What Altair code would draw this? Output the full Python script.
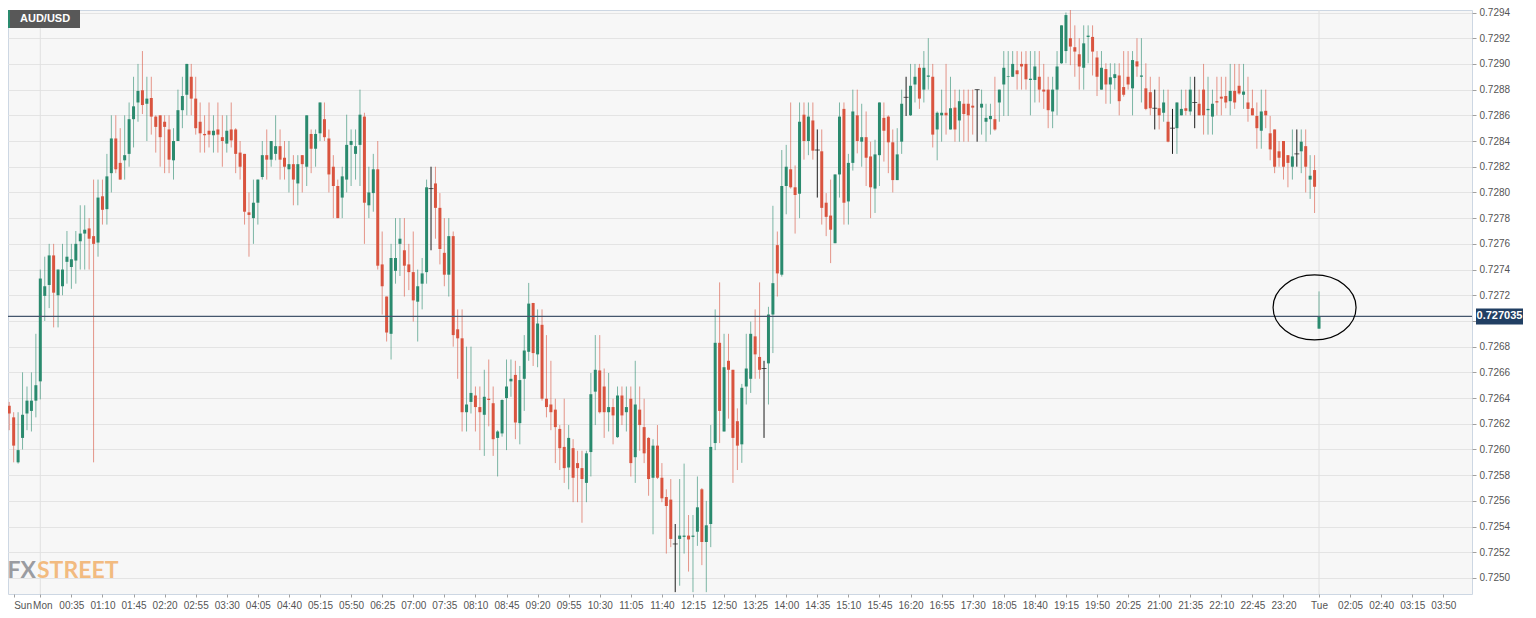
import json
import pandas as pd
import altair as alt

symbol = "AUD/USD"
current_price = 0.727035
first_index = -8  # Sun 23:20, 5-minute candles, index 0 = Mon 00:00

# price values in pips (price * 10000)
open_pips = [
    7263.8, 7263.4, 7262.5, 7259.0, 7260.9, 7262.8, 7263.0, 7263.8,
    7265.3, 7271.95, 7272.8, 7275.1, 7272.0, 7272.7, 7274.6, 7274.2, 7274.7, 7276.2,
    7276.8, 7277.2, 7276.6, 7276.1, 7279.7, 7278.7, 7281.5, 7284.2, 7282.3, 7282.5,
    7283.0, 7285.7, 7287.0, 7287.95, 7286.9, 7287.35, 7285.9, 7286.0, 7285.5, 7284.9,
    7282.5, 7284.0, 7286.4, 7287.6, 7289.0, 7287.3, 7285.5, 7284.55, 7284.8, 7284.45,
    7284.9, 7284.3, 7283.8, 7284.9, 7284.9, 7283.1, 7283.0, 7278.45, 7278.0, 7279.2,
    7281.2, 7282.9, 7282.55, 7283.0, 7283.6, 7282.7, 7281.8, 7282.2, 7280.7, 7282.9,
    7282.0, 7284.55, 7283.4, 7284.6, 7285.7, 7284.2, 7282.0, 7280.5, 7279.6, 7281.0,
    7283.7, 7283.0, 7283.7, 7285.9, 7279.0, 7279.95, 7281.8, 7274.4, 7271.9, 7269.0,
    7273.9, 7276.0, 7275.5, 7274.4, 7273.8, 7271.5, 7272.9, 7273.8, 7280.3, 7280.7,
    7278.8, 7275.3, 7273.6, 7276.6, 7269.35, 7268.65, 7262.9, 7263.7, 7264.2, 7263.3,
    7262.7, 7263.95, 7263.6, 7260.9, 7261.25, 7264.0, 7265.3, 7265.8, 7262.05, 7265.5,
    7267.6, 7271.4, 7267.4, 7269.7, 7263.95, 7263.5, 7263.1, 7261.6, 7260.2, 7258.6,
    7260.1, 7258.94, 7258.55, 7257.4, 7259.8, 7264.5, 7266.15, 7264.9, 7262.9, 7263.3,
    7260.96, 7264.2, 7262.9, 7263.95, 7259.4, 7263.1, 7261.74, 7260.9, 7257.8, 7260.3,
    7257.8, 7256.3, 7256.1, 7252.65, 7253.04, 7253.2, 7253.3, 7253.2, 7253.6, 7256.9,
    7252.8, 7254.2, 7260.5, 7268.3, 7261.4, 7266.9, 7266.2, 7262.2, 7260.4, 7264.9,
    7265.5, 7268.8, 7267.2, 7266.3, 7266.7, 7270.5, 7275.9, 7273.6, 7280.5, 7281.8,
    7280.4, 7279.9, 7286.05, 7284.0, 7285.6, 7283.3, 7283.2, 7279.2, 7278.2, 7276.05,
    7281.4, 7286.5, 7279.3, 7282.3, 7286.0, 7283.95, 7284.3, 7282.8, 7280.3, 7282.9,
    7285.8, 7285.9, 7283.9, 7280.96, 7283.95, 7287.4, 7286.0, 7288.4, 7289.7, 7288.0,
    7289.0, 7289.0, 7284.9, 7286.0, 7286.2, 7284.9, 7286.6, 7285.6, 7286.9, 7286.9,
    7286.75, 7288.0, 7286.6, 7285.5, 7285.7, 7285.7, 7287.0, 7288.4, 7289.0, 7289.0,
    7289.5, 7290.0, 7290.0, 7288.75, 7288.75, 7289.0, 7288.0, 7288.0, 7286.3, 7288.0,
    7290.05, 7291.0, 7292.0, 7291.3, 7290.75, 7289.7, 7292.1, 7292.1, 7290.5, 7288.0,
    7289.6, 7288.4, 7288.9, 7289.1, 7288.2, 7289.0, 7288.1, 7290.2, 7289.0, 7288.1,
    7287.8, 7286.55, 7286.55, 7286.2, 7285.5, 7285.0, 7285.0, 7286.0, 7286.55, 7286.3,
    7287.0, 7286.9, 7288.0, 7286.4, 7285.9, 7287.1, 7287.45, 7287.5, 7287.1, 7287.9,
    7288.3, 7287.6, 7287.0, 7286.55, 7285.95, 7284.8, 7286.35, 7284.6, 7284.9, 7283.2,
    7284.0, 7282.9, 7282.0, 7283.0, 7283.2, 7283.6, 7281.0, 7281.74, 7269.4,
]
high_pips = [
    7264.0, 7263.7, 7262.9, 7262.9, 7266.0, 7264.9, 7266.0, 7269.0,
    7274.0, 7275.0, 7276.0, 7276.0, 7274.0, 7276.0, 7277.0, 7276.0, 7277.0, 7279.0,
    7279.0, 7278.0, 7281.0, 7281.0, 7281.0, 7283.0, 7286.0, 7286.0, 7285.0, 7286.0,
    7287.0, 7289.0, 7290.0, 7291.0, 7289.0, 7289.0, 7286.0, 7286.0, 7286.0, 7286.0,
    7285.0, 7288.0, 7289.0, 7290.0, 7290.0, 7289.0, 7287.0, 7286.0, 7287.0, 7286.0,
    7287.0, 7286.0, 7286.0, 7287.0, 7285.0, 7284.0, 7283.0, 7280.0, 7281.0, 7281.0,
    7284.0, 7284.9, 7284.0, 7286.0, 7284.9, 7284.0, 7284.0, 7282.9, 7282.9, 7282.9,
    7286.0, 7284.9, 7284.9, 7287.0, 7287.0, 7284.9, 7282.9, 7281.0, 7282.0, 7286.05,
    7284.9, 7284.9, 7288.0, 7286.2, 7282.0, 7283.0, 7284.0, 7276.96, 7271.9, 7276.0,
    7278.0, 7278.0, 7278.0, 7276.0, 7276.96, 7274.0, 7274.9, 7281.0, 7282.0, 7282.0,
    7279.95, 7278.0, 7278.0, 7276.96, 7270.9, 7270.9, 7268.0, 7268.0, 7264.9, 7264.9,
    7266.2, 7267.0, 7264.9, 7261.5, 7263.9, 7267.0, 7267.0, 7266.9, 7266.5, 7268.9,
    7272.96, 7271.4, 7270.9, 7270.9, 7268.9, 7266.9, 7263.95, 7261.9, 7263.95, 7261.9,
    7260.8, 7259.9, 7259.9, 7259.9, 7265.95, 7268.9, 7268.9, 7266.3, 7265.95, 7263.95,
    7264.9, 7264.9, 7264.9, 7264.9, 7266.9, 7264.9, 7263.95, 7260.96, 7260.8, 7261.9,
    7258.94, 7256.9, 7257.7, 7254.2, 7257.7, 7258.9, 7254.9, 7254.9, 7257.9, 7257.0,
    7256.0, 7261.9, 7270.9, 7273.0, 7269.0, 7269.0, 7266.2, 7263.2, 7265.1, 7269.0,
    7269.95, 7270.9, 7273.0, 7266.9, 7271.1, 7278.96, 7276.96, 7283.3, 7283.7, 7287.0,
    7282.1, 7287.0, 7287.0, 7287.0, 7287.0, 7284.9, 7284.9, 7279.95, 7281.0, 7281.4,
    7287.0, 7287.0, 7283.0, 7288.0, 7288.0, 7286.9, 7286.3, 7283.95, 7284.1, 7287.0,
    7287.0, 7286.0, 7284.9, 7285.0, 7288.0, 7289.0, 7290.0, 7290.0, 7290.0, 7291.0,
    7292.0, 7290.0, 7286.3, 7288.0, 7290.0, 7289.0, 7288.0, 7288.0, 7288.0, 7288.0,
    7288.0, 7288.0, 7288.0, 7286.9, 7286.9, 7289.0, 7288.0, 7291.0, 7291.0, 7291.0,
    7291.0, 7290.96, 7291.0, 7291.0, 7291.0, 7291.0, 7290.0, 7289.0, 7289.0, 7291.0,
    7293.0, 7294.0, 7295.0, 7293.0, 7292.0, 7293.0, 7293.0, 7293.0, 7291.0, 7291.0,
    7290.05, 7290.05, 7290.05, 7290.05, 7291.0, 7291.0, 7291.0, 7292.0, 7292.0, 7290.05,
    7289.0, 7288.0, 7289.0, 7288.0, 7288.0, 7286.5, 7287.0, 7288.0, 7288.0, 7289.0,
    7289.0, 7288.0, 7290.0, 7289.0, 7288.0, 7289.0, 7289.0, 7289.0, 7290.0, 7290.0,
    7290.0, 7290.0, 7289.0, 7288.0, 7287.0, 7288.0, 7288.0, 7285.95, 7284.9, 7284.0,
    7284.0, 7282.9, 7284.9, 7284.9, 7284.9, 7284.9, 7282.9, 7282.9, 7272.3,
]
low_pips = [
    7262.2, 7261.5, 7259.0, 7258.9, 7260.0, 7261.5, 7261.4, 7262.5,
    7263.9, 7270.0, 7271.0, 7269.5, 7269.5, 7272.0, 7272.9, 7272.5, 7272.9, 7274.0,
    7274.0, 7274.0, 7259.0, 7275.0, 7277.5, 7277.5, 7280.0, 7281.5, 7281.0, 7281.0,
    7282.0, 7283.5, 7285.5, 7286.1, 7284.0, 7284.5, 7283.1, 7282.0, 7281.5, 7281.5,
    7281.0, 7284.0, 7285.0, 7286.0, 7286.0, 7284.5, 7283.1, 7283.1, 7283.5, 7283.1,
    7283.1, 7282.0, 7283.1, 7283.5, 7281.5, 7281.0, 7277.5, 7275.0, 7276.0, 7277.5,
    7281.0, 7281.0, 7282.0, 7282.5, 7281.0, 7281.0, 7280.0, 7279.0, 7279.0, 7280.0,
    7280.5, 7281.5, 7282.0, 7284.0, 7284.0, 7280.0, 7278.0, 7278.0, 7278.0, 7280.0,
    7280.5, 7281.0, 7280.5, 7276.0, 7278.0, 7278.5, 7274.0, 7270.5, 7268.4, 7267.0,
    7272.9, 7273.5, 7271.9, 7272.4, 7269.95, 7268.4, 7270.9, 7272.9, 7275.5, 7276.4,
    7274.4, 7272.7, 7271.9, 7268.0, 7265.5, 7261.4, 7261.4, 7262.8, 7261.4, 7259.95,
    7259.5, 7261.8, 7259.5, 7257.9, 7261.0, 7259.95, 7264.1, 7260.8, 7260.4, 7263.0,
    7266.9, 7266.5, 7266.4, 7263.8, 7262.5, 7261.5, 7258.94, 7258.4, 7257.4, 7256.9,
    7255.9, 7255.9, 7254.3, 7255.9, 7257.9, 7261.9, 7262.8, 7260.9, 7261.4, 7260.4,
    7260.9, 7261.9, 7261.4, 7257.9, 7257.4, 7259.9, 7258.94, 7256.4, 7253.4, 7257.7,
    7255.9, 7251.9, 7252.4, 7248.9, 7249.4, 7251.9, 7250.5, 7248.9, 7252.5, 7251.0,
    7248.9, 7252.4, 7259.95, 7260.5, 7261.4, 7262.4, 7257.4, 7258.4, 7258.96, 7263.5,
    7264.4, 7265.5, 7265.5, 7260.9, 7263.5, 7267.5, 7271.9, 7273.45, 7278.3, 7280.3,
    7276.8, 7278.0, 7282.55, 7282.9, 7282.55, 7279.6, 7277.5, 7276.6, 7274.5, 7276.05,
    7279.6, 7277.5, 7277.5, 7281.7, 7283.04, 7282.0, 7280.5, 7278.0, 7278.4, 7280.5,
    7282.4, 7281.5, 7280.0, 7280.96, 7283.0, 7285.95, 7285.95, 7287.0, 7286.5, 7287.0,
    7288.0, 7283.5, 7282.5, 7283.95, 7284.5, 7284.9, 7283.95, 7283.95, 7283.95, 7283.95,
    7284.5, 7283.95, 7284.5, 7283.95, 7284.5, 7284.8, 7285.5, 7285.95, 7285.95, 7289.0,
    7288.0, 7288.0, 7288.0, 7286.0, 7287.0, 7287.0, 7286.5, 7285.0, 7285.0, 7286.0,
    7290.0, 7290.05, 7289.9, 7289.0, 7288.0, 7288.0, 7290.05, 7289.1, 7287.5, 7288.0,
    7286.9, 7286.9, 7288.0, 7286.0, 7287.45, 7288.0, 7286.0, 7289.0, 7287.0, 7286.4,
    7286.0, 7284.9, 7284.9, 7285.5, 7283.9, 7283.0, 7283.0, 7286.0, 7286.0, 7286.0,
    7285.0, 7286.0, 7284.5, 7284.5, 7284.5, 7286.0, 7286.0, 7286.55, 7286.0, 7286.5,
    7287.6, 7286.5, 7285.5, 7286.0, 7283.4, 7283.4, 7285.0, 7282.5, 7281.5, 7282.0,
    7281.0, 7280.4, 7281.0, 7282.0, 7281.5, 7280.0, 7279.5, 7278.4, 7269.4,
]
close_pips = [
    7262.5, 7262.8, 7260.3, 7259.95, 7262.7, 7263.8, 7263.8, 7265.0,
    7273.3, 7272.7, 7275.1, 7272.2, 7274.0, 7274.0, 7275.0, 7274.8, 7276.0, 7276.8,
    7277.1, 7276.4, 7276.0, 7279.6, 7278.65, 7281.25, 7284.2, 7281.8, 7281.0, 7282.9,
    7285.7, 7286.7, 7287.9, 7286.8, 7287.3, 7285.9, 7285.1, 7284.3, 7285.1, 7282.55,
    7284.0, 7286.4, 7287.5, 7290.0, 7287.3, 7285.0, 7284.6, 7284.45, 7284.5, 7284.8,
    7284.5, 7284.0, 7284.8, 7284.05, 7283.0, 7282.0, 7278.5, 7278.25, 7279.2, 7281.0,
    7282.9, 7282.55, 7284.0, 7283.6, 7282.55, 7282.0, 7282.2, 7281.0, 7282.2, 7282.2,
    7286.0, 7283.4, 7284.55, 7287.0, 7284.3, 7281.4, 7280.5, 7278.0, 7281.25, 7283.7,
    7284.0, 7283.6, 7286.05, 7279.2, 7280.0, 7281.8, 7274.3, 7272.7, 7269.1, 7274.9,
    7274.9, 7276.4, 7274.3, 7273.8, 7271.6, 7272.7, 7273.7, 7280.4, 7280.3, 7278.8,
    7275.6, 7273.6, 7276.6, 7268.9, 7268.65, 7262.9, 7263.5, 7264.4, 7263.3, 7262.9,
    7264.1, 7263.85, 7260.8, 7261.4, 7263.85, 7264.9, 7265.5, 7262.1, 7265.4, 7267.7,
    7271.35, 7267.5, 7269.8, 7263.95, 7263.3, 7262.9, 7261.74, 7260.1, 7258.55, 7260.9,
    7257.8, 7258.55, 7257.7, 7259.7, 7264.3, 7266.2, 7262.9, 7262.9, 7263.3, 7262.65,
    7264.2, 7262.65, 7263.3, 7258.94, 7263.5, 7261.9, 7259.7, 7257.7, 7260.3, 7257.8,
    7256.2, 7255.6, 7253.04, 7252.65, 7253.3, 7253.3, 7253.0, 7253.3, 7255.5, 7252.8,
    7254.1, 7260.2, 7268.3, 7263.0, 7266.4, 7266.2, 7260.9, 7260.3, 7264.8, 7266.3,
    7269.0, 7267.4, 7266.2, 7266.3, 7270.5, 7272.94, 7273.7, 7280.5, 7282.0, 7280.4,
    7279.8, 7285.5, 7284.0, 7285.9, 7283.25, 7283.3, 7278.8, 7278.1, 7277.1, 7281.4,
    7285.9, 7279.2, 7282.3, 7286.3, 7284.0, 7284.3, 7282.7, 7280.4, 7282.96, 7287.0,
    7284.8, 7283.9, 7280.96, 7282.96, 7286.9, 7287.4, 7288.3, 7289.0, 7287.3, 7289.7,
    7289.1, 7284.5, 7286.2, 7286.2, 7286.0, 7286.55, 7284.9, 7287.1, 7286.1, 7286.0,
    7286.6, 7288.0, 7286.9, 7285.8, 7285.95, 7284.9, 7288.0, 7289.7, 7289.05, 7290.0,
    7289.2, 7289.8, 7288.8, 7288.85, 7289.8, 7288.0, 7287.85, 7286.4, 7288.0, 7289.8,
    7293.0, 7293.8, 7291.35, 7290.96, 7289.8, 7291.6, 7292.2, 7290.96, 7289.0, 7289.7,
    7288.4, 7288.96, 7289.2, 7287.1, 7287.6, 7288.4, 7290.3, 7289.8, 7289.1, 7286.5,
    7286.55, 7286.55, 7286.0, 7287.0, 7283.95, 7285.0, 7287.0, 7286.5, 7286.35, 7288.0,
    7287.0, 7286.0, 7286.0, 7286.5, 7286.9, 7287.0, 7287.3, 7287.0, 7287.9, 7287.0,
    7287.7, 7287.85, 7286.5, 7286.0, 7285.0, 7286.3, 7286.0, 7283.35, 7282.0, 7282.7,
    7282.0, 7282.3, 7282.8, 7283.0, 7283.95, 7282.0, 7281.3, 7280.44, 7270.35,
]

n = len(open_pips)
assert n == len(high_pips) == len(low_pips) == len(close_pips) == 297, (
    len(open_pips), len(high_pips), len(low_pips), len(close_pips))

# x-axis ticks: candle index -> label
x_tick_values = [-6, 0, 7, 14, 21, 28, 35, 42, 49, 56, 63, 70, 77, 84, 91, 98, 105,
                 112, 119, 126, 133, 140, 147, 154, 161, 168, 175, 182, 189, 196,
                 203, 210, 217, 224, 231, 238, 245, 252, 259, 266, 273, 280,
                 288, 295, 302, 309, 316]
x_tick_labels = ["Sun", "Mon", "00:35", "01:10", "01:45", "02:20", "02:55", "03:30",
                 "04:05", "04:40", "05:15", "05:50", "06:25", "07:00", "07:35",
                 "08:10", "08:45", "09:20", "09:55", "10:30", "11:05", "11:40",
                 "12:15", "12:50", "13:25", "14:00", "14:35", "15:10", "15:45",
                 "16:20", "16:55", "17:30", "18:05", "18:40", "19:15", "19:50",
                 "20:25", "21:00", "21:35", "22:10", "22:45", "23:20",
                 "Tue", "02:05", "02:40", "03:15", "03:50"]
y_tick_values = [0.7250, 0.7252, 0.7254, 0.7256, 0.7258, 0.7260, 0.7262, 0.7264,
                 0.7266, 0.7268, 0.7270, 0.7272, 0.7274, 0.7276, 0.7278, 0.7280,
                 0.7282, 0.7284, 0.7286, 0.7288, 0.7290, 0.7292, 0.7294]
day_starts = [0, 288]
ellipse_x = [287.0]
ellipse_y = [0.727105]

df = pd.DataFrame({
    "i": list(range(first_index, first_index + n)),
    "open": [v / 10000 for v in open_pips],
    "high": [v / 10000 for v in high_pips],
    "low": [v / 10000 for v in low_pips],
    "close": [v / 10000 for v in close_pips],
})
df["type"] = ["doji" if abs(o - c) < 1e-9 else ("up" if c > o else "down")
              for o, c in zip(df["open"], df["close"])]

GREEN = "#2a8a6e"
RED = "#d9543f"
DOJI = "#1c1c1c"
color_scale = alt.Scale(domain=["up", "down", "doji"], range=[GREEN, RED, DOJI])

label_expr = f"{json.dumps(x_tick_labels)}[indexof({json.dumps(x_tick_values)}, datum.value)]"

x_axis = alt.Axis(values=x_tick_values, labelExpr=label_expr, title=None, grid=False,
                  domain=False, tickSize=3, tickColor="#a0a0a0", labelColor="#555555",
                  labelFontSize=10, labelFlush=False, labelPadding=3, labelOverlap=False,
                  labelAlign={"condition": {"test": "datum.value < 0", "value": "left"},
                              "value": "center"},
                  labelOffset={"condition": {"test": "datum.value == 0", "value": 2},
                               "value": 0})
y_axis = alt.Axis(orient="right", values=y_tick_values, format=".4f", title=None,
                  grid=True, gridColor="#e4e4e4", domain=False, tickSize=4,
                  tickColor="#a0a0a0", labelColor="#555555", labelFontSize=10,
                  labelPadding=3)
x_scale = alt.Scale(domain=[-6.15, 321.33], nice=False, zero=False)
y_scale = alt.Scale(domain=[0.7248755, 0.7294195], nice=False, zero=False)

X = alt.X("i:Q", scale=x_scale, axis=x_axis)

base = alt.Chart(df)

days = alt.Chart(pd.DataFrame({"i": day_starts})).mark_rule(
    color="#e0e0e0", strokeWidth=1).encode(x=X)

wicks = base.mark_rule(strokeWidth=1, clip=True).encode(
    x=X,
    y=alt.Y("low:Q", scale=y_scale, axis=y_axis),
    y2="high:Q",
    color=alt.Color("type:N", scale=color_scale, legend=None),
    opacity=alt.condition(alt.datum.type == "doji", alt.value(1.0), alt.value(0.6)),
)

bodies = base.transform_filter(alt.datum.type != "doji").mark_bar(size=3, clip=True).encode(
    x=X,
    y=alt.Y("open:Q", scale=y_scale, axis=y_axis),
    y2="close:Q",
    color=alt.Color("type:N", scale=color_scale, legend=None),
)

dojis = base.transform_filter(alt.datum.type == "doji").mark_tick(
    orient="horizontal", size=5, thickness=1, clip=True).encode(
    x=X,
    y=alt.Y("close:Q", scale=y_scale, axis=y_axis),
    color=alt.Color("type:N", scale=color_scale, legend=None),
)

price_df = pd.DataFrame({"price": [current_price], "label": [f"{current_price:.6f}"]})

price_line = alt.Chart(price_df).mark_rule(color="#44566d", strokeWidth=1.3).encode(
    y=alt.Y("price:Q", scale=y_scale, axis=y_axis))

price_box = alt.Chart(price_df).mark_rect(color="#213f63", yOffset=-8, y2Offset=8).encode(
    x=alt.value(1468), x2=alt.value(1515),
    y=alt.Y("price:Q", scale=y_scale, axis=y_axis), y2="price:Q")

price_text = alt.Chart(price_df).mark_text(
    color="white", fontWeight="bold", fontSize=11, align="center", baseline="middle",
    font="Liberation Sans").encode(
    x=alt.value(1491.5), y=alt.Y("price:Q", scale=y_scale, axis=y_axis), text="label:N")

ellipse_path = "M-1,0 A1,0.783 0 1,0 1,0 A1,0.783 0 1,0 -1,0 Z"
ellipse = alt.Chart(pd.DataFrame({"x": ellipse_x, "y": ellipse_y})).mark_point(
    shape=ellipse_path, size=6889, filled=False, color="black", strokeWidth=1.2,
    opacity=1).encode(
    x=alt.X("x:Q", scale=x_scale, axis=x_axis),
    y=alt.Y("y:Q", scale=y_scale, axis=y_axis))

sym_df = pd.DataFrame({"label": [symbol]})
sym_box = alt.Chart(sym_df).mark_rect(color="#585858").encode(
    x=alt.value(0), x2=alt.value(72), y=alt.value(0), y2=alt.value(18))
sym_stripe = alt.Chart(sym_df).mark_rect(color="#2a8a6e").encode(
    x=alt.value(0), x2=alt.value(2), y=alt.value(0), y2=alt.value(18))
sym_text = alt.Chart(sym_df).mark_text(
    color="white", fontWeight="bold", fontSize=11, align="left", baseline="middle",
    font="Liberation Sans").encode(x=alt.value(12), y=alt.value(9), text="label:N")

wm_df = pd.DataFrame({"a": ["FX"], "b": ["STREET"]})
wm_font = "Lato"
wm_fx = alt.Chart(wm_df).mark_text(
    color="#9a9ca1", fontWeight="bold", fontSize=23, align="right", baseline="alphabetic",
    font=wm_font).encode(x=alt.value(28), y=alt.value(568), text="a:N")
wm_street = alt.Chart(wm_df).mark_text(
    color="#f2bb80", fontWeight="bold", fontSize=23, align="left", baseline="alphabetic",
    font=wm_font).encode(x=alt.value(29), y=alt.value(568), text="b:N")

chart = alt.layer(
    days, wm_fx, wm_street, wicks, bodies, dojis, price_line, ellipse,
    price_box, price_text, sym_box, sym_stripe, sym_text,
).properties(
    width=1464, height=584,
    autosize=alt.AutoSizeParams(type="none"),
    padding={"left": 0, "top": 2, "right": 56, "bottom": 16},
    background="white",
).configure_view(
    fill="#f7f7f7", stroke="#cdd7e3", strokeWidth=1
).configure_axis(
    labelFont="Liberation Sans"
)

chart.save("out.html", embed_options={"renderer": "svg", "actions": False})
